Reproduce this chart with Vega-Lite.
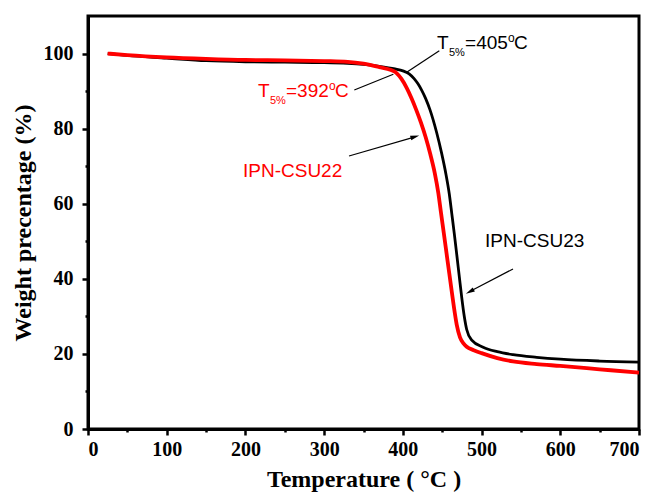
{
  "$schema": "https://vega.github.io/schema/vega-lite/v6.json",
  "width": 551,
  "height": 413,
  "autosize": "none",
  "padding": {"left": 88, "top": 16, "right": 21, "bottom": 70},
  "background": "white",
  "config": {
    "view": {"stroke": "black", "strokeWidth": 3},
    "axis": {"grid": false, "domainColor": "black", "domainWidth": 3, "tickColor": "black", "labelColor": "black", "titleColor": "black", "labelFont": "Liberation Serif", "titleFont": "Liberation Serif", "labelFontWeight": "bold", "titleFontWeight": "bold"}
  },
  "datasets": {
    "tga": [
      {"sample": "IPN-CSU23", "T": 25, "W": 100},
      {"sample": "IPN-CSU23", "T": 50, "W": 99.5},
      {"sample": "IPN-CSU23", "T": 100, "W": 98.8},
      {"sample": "IPN-CSU23", "T": 150, "W": 98.1},
      {"sample": "IPN-CSU23", "T": 200, "W": 97.8},
      {"sample": "IPN-CSU23", "T": 250, "W": 97.7},
      {"sample": "IPN-CSU23", "T": 300, "W": 97.6},
      {"sample": "IPN-CSU23", "T": 330, "W": 97.4},
      {"sample": "IPN-CSU23", "T": 350, "W": 97.1},
      {"sample": "IPN-CSU23", "T": 370, "W": 96.6},
      {"sample": "IPN-CSU23", "T": 390, "W": 95.9},
      {"sample": "IPN-CSU23", "T": 400, "W": 95.4},
      {"sample": "IPN-CSU23", "T": 408, "W": 94.6},
      {"sample": "IPN-CSU23", "T": 414, "W": 93.4},
      {"sample": "IPN-CSU23", "T": 419, "W": 92.0},
      {"sample": "IPN-CSU23", "T": 424, "W": 90.2},
      {"sample": "IPN-CSU23", "T": 429, "W": 88.0},
      {"sample": "IPN-CSU23", "T": 434.5, "W": 85.0},
      {"sample": "IPN-CSU23", "T": 443.0, "W": 78.9},
      {"sample": "IPN-CSU23", "T": 449.3, "W": 73.4},
      {"sample": "IPN-CSU23", "T": 454.8, "W": 67.8},
      {"sample": "IPN-CSU23", "T": 459.0, "W": 62.6},
      {"sample": "IPN-CSU23", "T": 462.2, "W": 57.3},
      {"sample": "IPN-CSU23", "T": 465.3, "W": 52.1},
      {"sample": "IPN-CSU23", "T": 468.4, "W": 46.6},
      {"sample": "IPN-CSU23", "T": 471.7, "W": 40.6},
      {"sample": "IPN-CSU23", "T": 474.7, "W": 35.2},
      {"sample": "IPN-CSU23", "T": 478.1, "W": 29.9},
      {"sample": "IPN-CSU23", "T": 481.1, "W": 26.5},
      {"sample": "IPN-CSU23", "T": 487.5, "W": 23.7},
      {"sample": "IPN-CSU23", "T": 502, "W": 21.8},
      {"sample": "IPN-CSU23", "T": 520, "W": 20.6},
      {"sample": "IPN-CSU23", "T": 540, "W": 19.8},
      {"sample": "IPN-CSU23", "T": 570, "W": 19.1},
      {"sample": "IPN-CSU23", "T": 600, "W": 18.6},
      {"sample": "IPN-CSU23", "T": 650, "W": 18.1},
      {"sample": "IPN-CSU23", "T": 700, "W": 17.8},
      {"sample": "IPN-CSU22", "T": 25, "W": 100},
      {"sample": "IPN-CSU22", "T": 50, "W": 99.6},
      {"sample": "IPN-CSU22", "T": 100, "W": 99.0},
      {"sample": "IPN-CSU22", "T": 150, "W": 98.6},
      {"sample": "IPN-CSU22", "T": 200, "W": 98.3},
      {"sample": "IPN-CSU22", "T": 250, "W": 98.2},
      {"sample": "IPN-CSU22", "T": 300, "W": 98.0},
      {"sample": "IPN-CSU22", "T": 330, "W": 97.8},
      {"sample": "IPN-CSU22", "T": 350, "W": 97.3},
      {"sample": "IPN-CSU22", "T": 370, "W": 96.4},
      {"sample": "IPN-CSU22", "T": 385, "W": 95.6},
      {"sample": "IPN-CSU22", "T": 392, "W": 94.8},
      {"sample": "IPN-CSU22", "T": 398, "W": 93.3},
      {"sample": "IPN-CSU22", "T": 405, "W": 90.8},
      {"sample": "IPN-CSU22", "T": 411, "W": 88.1},
      {"sample": "IPN-CSU22", "T": 417, "W": 85.0},
      {"sample": "IPN-CSU22", "T": 423, "W": 81.6},
      {"sample": "IPN-CSU22", "T": 429, "W": 77.7},
      {"sample": "IPN-CSU22", "T": 435, "W": 73.1},
      {"sample": "IPN-CSU22", "T": 440.6, "W": 68.1},
      {"sample": "IPN-CSU22", "T": 445.1, "W": 62.8},
      {"sample": "IPN-CSU22", "T": 448.5, "W": 57.5},
      {"sample": "IPN-CSU22", "T": 452, "W": 52.2},
      {"sample": "IPN-CSU22", "T": 455.5, "W": 46.8},
      {"sample": "IPN-CSU22", "T": 459, "W": 41.4},
      {"sample": "IPN-CSU22", "T": 462.2, "W": 36.5},
      {"sample": "IPN-CSU22", "T": 464.9, "W": 32.4},
      {"sample": "IPN-CSU22", "T": 468.4, "W": 27.8},
      {"sample": "IPN-CSU22", "T": 472.6, "W": 24.4},
      {"sample": "IPN-CSU22", "T": 477, "W": 22.8},
      {"sample": "IPN-CSU22", "T": 481.1, "W": 21.9},
      {"sample": "IPN-CSU22", "T": 490, "W": 21.0},
      {"sample": "IPN-CSU22", "T": 500, "W": 20.2},
      {"sample": "IPN-CSU22", "T": 520, "W": 18.9},
      {"sample": "IPN-CSU22", "T": 540, "W": 18.0},
      {"sample": "IPN-CSU22", "T": 570, "W": 17.3},
      {"sample": "IPN-CSU22", "T": 600, "W": 16.8},
      {"sample": "IPN-CSU22", "T": 650, "W": 15.9},
      {"sample": "IPN-CSU22", "T": 700, "W": 15.0}
    ],
    "bigtext": [
      {"sample": "IPN-CSU23", "T": 443.4, "W": 101.2, "text": "T"},
      {"sample": "IPN-CSU23", "T": 479.0, "W": 101.2, "text": "=405"},
      {"sample": "IPN-CSU23", "T": 541.2, "W": 101.2, "text": "C"},
      {"sample": "IPN-CSU22", "T": 216.0, "W": 88.43, "text": "T"},
      {"sample": "IPN-CSU22", "T": 251.5, "W": 88.43, "text": "=392"},
      {"sample": "IPN-CSU22", "T": 313.8, "W": 88.43, "text": "C"},
      {"sample": "IPN-CSU22", "T": 196.9, "W": 67.12, "text": "IPN-CSU22"},
      {"sample": "IPN-CSU23", "T": 504.4, "W": 48.56, "text": "IPN-CSU23"}
    ],
    "subtext": [
      {"sample": "IPN-CSU23", "T": 458.6, "W": 99.35, "text": "5%"},
      {"sample": "IPN-CSU22", "T": 231.2, "W": 86.56, "text": "5%"}
    ],
    "suptext": [
      {"sample": "IPN-CSU23", "T": 533.6, "W": 103.1, "text": "o"},
      {"sample": "IPN-CSU22", "T": 306.2, "W": 90.29, "text": "o"}
    ],
    "pointers": [
      {"T": 338.3, "W": 90.3, "T2": 387.9, "W2": 94.47},
      {"T": 404.9, "W": 95.0, "T2": 446.3, "W2": 100.76},
      {"T": 331.6, "W": 72.71, "T2": 415.5, "W2": 77.8},
      {"T": 539.9, "W": 42.62, "T2": 485.0, "W2": 36.6}
    ],
    "head22": [{"T": 414.4, "W": 77.75}],
    "head23": [{"T": 486.0, "W": 36.7}]
  },
  "layer": [
    {
      "data": {"name": "tga"},
      "transform": [{"filter": "datum.sample === 'IPN-CSU23'"}],
      "mark": {"type": "line", "color": "black", "strokeWidth": 2.8, "interpolate": "monotone"},
      "encoding": {
        "x": {"field": "T", "type": "quantitative", "scale": {"domain": [0, 700], "nice": false}, "axis": {"orient": "bottom", "values": [0, 100, 200, 300, 400, 500, 600, 700], "tickSize": 6, "tickWidth": 2.5, "labelFontSize": 20, "labelPadding": 4, "title": "Temperature ( °C )", "titleFontSize": 24, "titlePadding": 8}},
        "y": {"field": "W", "type": "quantitative", "scale": {"domain": [0, 110], "nice": false}, "axis": {"orient": "left", "values": [0, 20, 40, 60, 80, 100], "tickSize": 6, "tickWidth": 2.5, "labelFontSize": 20, "labelPadding": 9, "title": "Weight precentage (%)", "titleFontSize": 24, "titlePadding": 8}}
      }
    },
    {
      "data": {"name": "tga"},
      "transform": [{"filter": "datum.sample === 'IPN-CSU22'"}],
      "mark": {"type": "line", "color": "#ff0000", "strokeWidth": 3.8, "interpolate": "monotone"},
      "encoding": {
        "x": {"field": "T", "type": "quantitative", "axis": {"orient": "bottom", "values": [50, 150, 250, 350, 450, 550, 650], "tickSize": 3, "tickWidth": 2.5, "labels": false, "domain": false, "title": null}},
        "y": {"field": "W", "type": "quantitative", "axis": {"orient": "left", "values": [10, 30, 50, 70, 90], "tickSize": 3, "tickWidth": 2.5, "labels": false, "domain": false, "title": null}}
      }
    },
    {
      "data": {"name": "pointers"},
      "mark": {"type": "rule", "color": "black", "strokeWidth": 1.2},
      "encoding": {
        "x": {"field": "T", "type": "quantitative", "axis": null},
        "y": {"field": "W", "type": "quantitative", "axis": null},
        "x2": {"field": "T2"},
        "y2": {"field": "W2"}
      }
    },
    {
      "data": {"name": "head22"},
      "mark": {"type": "point", "shape": "M0,-1L0.45,0.7L-0.45,0.7Z", "filled": true, "color": "black", "size": 110, "opacity": 1, "angle": 73.8},
      "encoding": {
        "x": {"field": "T", "type": "quantitative", "axis": null},
        "y": {"field": "W", "type": "quantitative", "axis": null}
      }
    },
    {
      "data": {"name": "head23"},
      "mark": {"type": "point", "shape": "M0,-1L0.45,0.7L-0.45,0.7Z", "filled": true, "color": "black", "size": 110, "opacity": 1, "angle": 242.4},
      "encoding": {
        "x": {"field": "T", "type": "quantitative", "axis": null},
        "y": {"field": "W", "type": "quantitative", "axis": null}
      }
    },
    {
      "data": {"name": "bigtext"},
      "mark": {"type": "text", "font": "Liberation Sans", "fontSize": 19, "align": "left", "baseline": "alphabetic"},
      "encoding": {
        "x": {"field": "T", "type": "quantitative", "axis": null},
        "y": {"field": "W", "type": "quantitative", "axis": null},
        "text": {"field": "text"},
        "color": {"field": "sample", "type": "nominal", "scale": {"domain": ["IPN-CSU23", "IPN-CSU22"], "range": ["black", "#ff0000"]}, "legend": null}
      }
    },
    {
      "data": {"name": "subtext"},
      "mark": {"type": "text", "font": "Liberation Sans", "fontSize": 11, "align": "left", "baseline": "alphabetic"},
      "encoding": {
        "x": {"field": "T", "type": "quantitative", "axis": null},
        "y": {"field": "W", "type": "quantitative", "axis": null},
        "text": {"field": "text"},
        "color": {"field": "sample", "type": "nominal", "legend": null}
      }
    },
    {
      "data": {"name": "suptext"},
      "mark": {"type": "text", "font": "Liberation Sans", "fontSize": 12, "align": "left", "baseline": "alphabetic"},
      "encoding": {
        "x": {"field": "T", "type": "quantitative", "axis": null},
        "y": {"field": "W", "type": "quantitative", "axis": null},
        "text": {"field": "text"},
        "color": {"field": "sample", "type": "nominal", "legend": null}
      }
    }
  ],
  "resolve": {"axis": {"x": "independent", "y": "independent"}}
}
